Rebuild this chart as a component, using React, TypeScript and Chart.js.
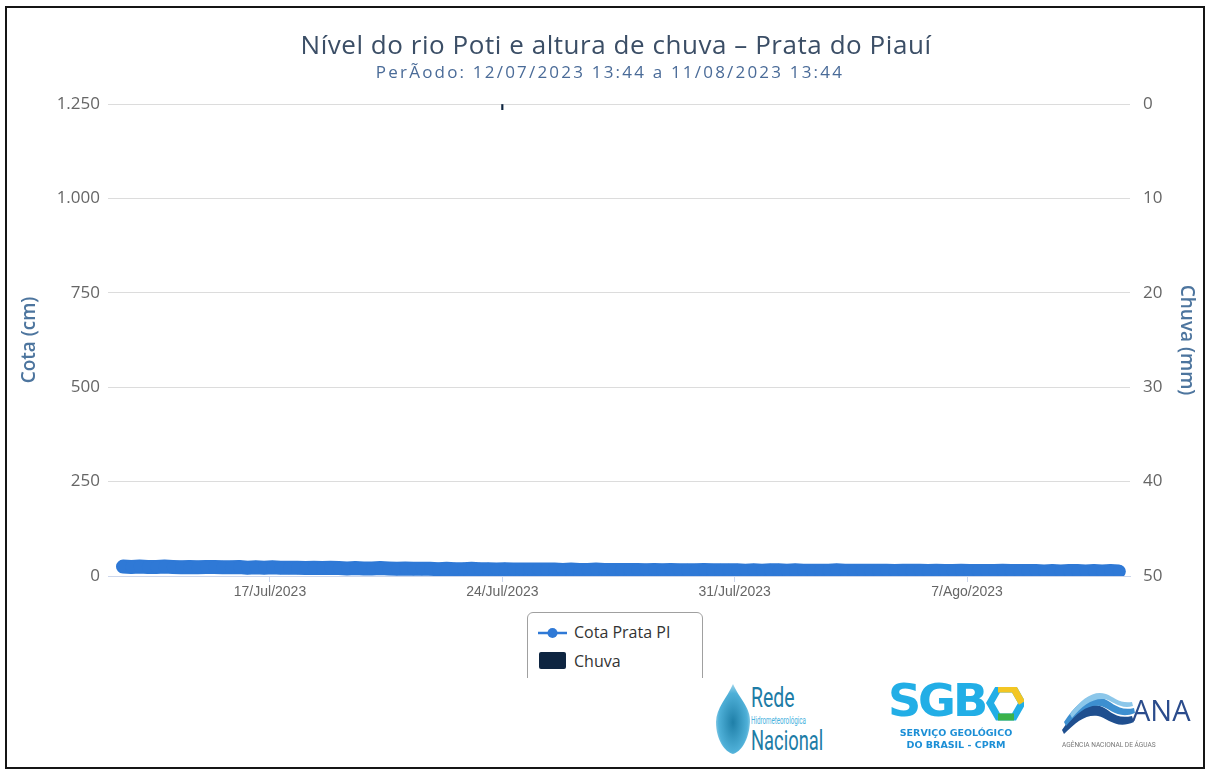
import React, { useEffect, useRef } from "react";
import { Chart, registerables } from "chart.js";

Chart.register(...registerables);

// ---- data ----
const startTime = Date.UTC(2023, 6, 12, 13, 44); // 12/07/2023 13:44
const stepHours = 6;

// Cota Prata PI (cm), one reading every 6 hours
const cotaValues = [
  25, 24, 25, 24,
  24, 25, 24, 23,
  24, 23, 24, 24,
  23, 23, 24, 22,
  23, 22, 23, 22,
  22, 22, 21, 22,
  21, 22, 21, 20,
  21, 20, 20, 21,
  20, 19, 20, 19,
  19, 19, 18, 19,
  18, 18, 19, 18,
  18, 17, 18, 17,
  17, 17, 17, 17,
  17, 16, 17, 16,
  16, 17, 16, 16,
  16, 16, 16, 15,
  16, 15, 16, 15,
  15, 15, 16, 15,
  15, 15, 15, 14,
  15, 14, 15, 15,
  14, 15, 14, 14,
  14, 14, 15, 14,
  14, 14, 14, 14,
  14, 13, 14, 14,
  14, 13, 14, 13,
  13, 14, 13, 13,
  13, 13, 14, 13,
  13, 13, 13, 12,
  13, 12, 13, 13,
  12, 13, 12, 13,
  12,
];

// Chuva (mm)
const chuvaTimes = [Date.UTC(2023, 6, 24, 0, 0)];
const chuvaValues = [0.6];

// tick labels
const xTickTimes = [
  Date.UTC(2023, 6, 17),
  Date.UTC(2023, 6, 24),
  Date.UTC(2023, 6, 31),
  Date.UTC(2023, 7, 7),
];
const monthNames = ["Jan", "Fev", "Mar", "Abr", "Mai", "Jun", "Jul", "Ago", "Set", "Out", "Nov", "Dez"];
const cotaTicks = [0, 250, 500, 750, 1000, 1250];
const chuvaTicks = [0, 10, 20, 30, 40, 50];

const DAY = 24 * 3600 * 1000;
const BLUE = "#2f79d6";
const NAVY = "#0e2541";

function fmtThousands(v: number): string {
  if (v >= 1000) {
    return `${Math.floor(v / 1000)}.${String(v % 1000).padStart(3, "0")}`;
  }
  return String(v);
}

function fmtDate(v: number): string {
  const d = new Date(v);
  return `${d.getUTCDate()}/${monthNames[d.getUTCMonth()]}/${d.getUTCFullYear()}`;
}

const ChartView: React.FC = () => {
  const ref = useRef<HTMLCanvasElement | null>(null);
  useEffect(() => {
    if (!ref.current) return;
    const cotaData = cotaValues.map((y, i) => ({ x: startTime + i * stepHours * 3600 * 1000, y }));
    const chuvaData = chuvaValues.map((y, i) => ({ x: chuvaTimes[i], y }));
    const chart = new Chart(ref.current, {
      type: "line",
      data: {
        datasets: [
          {
            type: "bar",
            label: "Chuva",
            data: chuvaData as any,
            yAxisID: "yChuva",
            backgroundColor: NAVY,
            borderWidth: 0,
            barThickness: 1.5,
            order: 2,
          } as any,
          {
            type: "line",
            label: "Cota Prata PI",
            data: cotaData as any,
            yAxisID: "yCota",
            borderColor: BLUE,
            backgroundColor: BLUE,
            borderWidth: 14,
            borderCapStyle: "round",
            borderJoinStyle: "round",
            pointRadius: 6,
            pointBorderWidth: 1,
            pointBackgroundColor: BLUE,
            pointBorderColor: BLUE,
            tension: 0,
            order: 1,
          },
        ],
      },
      options: {
        animation: false,
        responsive: true,
        maintainAspectRatio: false,
        layout: { padding: { top: 104, bottom: 72, left: 0, right: 0 } },
        plugins: {
          legend: { display: false },
          title: { display: false },
          tooltip: { enabled: false },
        },
        scales: {
          x: {
            type: "linear",
            offset: false,
            min: Date.UTC(2023, 6, 17) - 4.88 * DAY,
            max: Date.UTC(2023, 7, 7) + 4.91 * DAY,
            afterBuildTicks: (scale: any) => {
              scale.ticks = xTickTimes.map((v) => ({ value: v }));
            },
            afterFit: (scale: any) => {
              scale.height = 30;
            },
            ticks: {
              callback: (v: any) => fmtDate(Number(v)),
              color: "#666",
              font: { family: "Liberation Sans, Arial", size: 14 },
              padding: 2,
              maxRotation: 0,
              autoSkip: false,
            },
            grid: {
              offset: false,
              drawOnChartArea: false,
              drawTicks: true,
              tickLength: 6,
              color: "#ccd6eb",
            },
            border: { display: true, color: "#ccd6eb" },
          },
          yCota: {
            type: "linear",
            position: "left",
            min: 0,
            max: 1250,
            afterBuildTicks: (scale: any) => {
              scale.ticks = cotaTicks.map((v) => ({ value: v }));
            },
            afterFit: (scale: any) => {
              scale.width = 108;
            },
            ticks: {
              callback: (v: any) => fmtThousands(Number(v)),
              color: "#666",
              font: { family: "Open Sans", size: 17 },
              padding: 8,
            },
            grid: { color: "#dcdcdc", drawTicks: false },
            border: { display: false },
            title: {
              display: true,
              text: "Cota (cm)",
              color: "#4d759e",
              font: { family: "Open Sans", size: 19, weight: "600" },
              padding: { top: 18, bottom: 0 },
            },
          },
          yChuva: {
            type: "linear",
            position: "right",
            reverse: true,
            min: 0,
            max: 50,
            afterBuildTicks: (scale: any) => {
              scale.ticks = chuvaTicks.map((v) => ({ value: v }));
            },
            afterFit: (scale: any) => {
              scale.width = 80;
            },
            ticks: {
              color: "#666",
              font: { family: "Open Sans", size: 17 },
              padding: 13,
            },
            grid: { drawOnChartArea: false, drawTicks: false },
            border: { display: false },
            title: {
              display: true,
              text: "Chuva (mm)",
              color: "#4d759e",
              font: { family: "Open Sans", size: 19, weight: "600" },
              padding: { top: 12, bottom: 0 },
            },
          },
        },
      } as any,
    });
    return () => chart.destroy();
  }, []);
  return <canvas ref={ref} />;
};

const ReLogo: React.FC = () => (
  <div style={{ position: "absolute", left: 713, top: 682, width: 145, height: 76 }}>
    <svg width="40" height="74" style={{ position: "absolute", left: 0, top: 0 }}>
      <defs>
        <radialGradient id="rg" cx="50%" cy="55%" r="60%">
          <stop offset="0%" stopColor="#1f7fa8" />
          <stop offset="70%" stopColor="#4fb0d8" />
          <stop offset="100%" stopColor="#bfe4f3" />
        </radialGradient>
      </defs>
      <path d="M20 2 C26 16 38 26 37 40 C36 58 28 70 20 72 C12 70 3 58 3 40 C3 26 14 16 20 2 Z" fill="url(#rg)" />
    </svg>
    <div style={{ position: "absolute", left: 38, top: 2, fontFamily: "Roboto", fontSize: 27, color: "#1d7ca6", transform: "scaleX(0.72)", transformOrigin: "left top", lineHeight: "28px" }}>Rede</div>
    <div style={{ position: "absolute", left: 38, top: 33, fontFamily: "Roboto", fontSize: 10, color: "#49b2de", transform: "scaleX(0.62)", transformOrigin: "left top", lineHeight: "11px", whiteSpace: "nowrap" }}>Hidrometeorológica</div>
    <div style={{ position: "absolute", left: 38, top: 45, fontFamily: "Roboto", fontSize: 27, color: "#1d7ca6", transform: "scaleX(0.68)", transformOrigin: "left top", lineHeight: "28px" }}>Nacional</div>
  </div>
);

const SgbLogo: React.FC = () => (
  <div style={{ position: "absolute", left: 888, top: 682, width: 140, height: 76 }}>
    <div style={{ position: "absolute", left: 0, top: -6, fontFamily: "DejaVu Sans", fontWeight: "bold", fontSize: 44, color: "#22aee6", letterSpacing: -3, lineHeight: "50px", transform: "scaleX(1.05)", transformOrigin: "left top" }}>SGB</div>
    <svg width="40" height="40" style={{ position: "absolute", left: 96, top: 5 }}>
      <polygon points="14,2 30,2 38,16 30,30 14,30 6,16" fill="none" stroke="#22aee6" strokeWidth="7" />
      <path d="M14 2 L30 2 L38 16" fill="none" stroke="#f3c623" strokeWidth="7" />
      <path d="M30 30 L14 30" fill="none" stroke="#3bb24a" strokeWidth="7" />
    </svg>
    <div style={{ position: "absolute", left: 4, top: 45, fontFamily: "DejaVu Sans", fontWeight: "bold", fontSize: 9.5, color: "#1c8fd6", lineHeight: "12px", whiteSpace: "nowrap", textAlign: "center", width: 128 }}>
      SERVIÇO GEOLÓGICO<br />DO BRASIL - CPRM
    </div>
  </div>
);

const AnaLogo: React.FC = () => (
  <div style={{ position: "absolute", left: 1060, top: 682, width: 140, height: 76 }}>
    <svg width="76" height="50" style={{ position: "absolute", left: 0, top: 8 }}>
      <path d="M2 40 C14 22 26 12 40 16 C50 19 54 30 72 26 L74 32 C56 40 48 28 38 26 C26 24 16 32 4 44 Z" fill="#1f4f8f" />
      <path d="M4 32 C16 14 28 4 42 8 C52 11 58 22 74 18 L75 23 C58 30 50 18 40 16 C28 14 18 22 6 36 Z" fill="#3d8fd0" />
      <path d="M10 24 C22 8 34 0 46 4 C54 7 60 14 72 12 L73 16 C60 20 52 10 44 9 C32 8 22 16 12 28 Z" fill="#8cc7ea" />
    </svg>
    <div style={{ position: "absolute", left: 72, top: 12, fontFamily: "Open Sans", fontSize: 29, color: "#2b4c8c", lineHeight: "32px" }}>ANA</div>
    <div style={{ position: "absolute", left: 2, top: 58, fontFamily: "Roboto", fontSize: 8, color: "#777", lineHeight: "10px", whiteSpace: "nowrap", transform: "scaleX(0.82)", transformOrigin: "left top" }}>AGÊNCIA NACIONAL DE ÁGUAS</div>
  </div>
);

const App: React.FC = () => {
  return (
    <div style={{ position: "absolute", left: 0, top: 0, width: 1210, height: 773, background: "#fff", overflow: "hidden" }}>
      <div style={{ position: "absolute", left: 0, top: 0, width: 1210, height: 678, overflow: "hidden" }}>
        <ChartView />
        <div style={{ position: "absolute", left: 0, width: 1232, top: 27, textAlign: "center", fontFamily: "Open Sans", fontSize: 26, letterSpacing: 0.55, color: "#3b4e66", lineHeight: "34px", whiteSpace: "nowrap" }}>
          Nível do rio Poti e altura de chuva – Prata do Piauí
        </div>
        <div style={{ position: "absolute", left: 0, width: 1220, top: 60, textAlign: "center", fontFamily: "Open Sans", fontSize: 17, letterSpacing: 2.2, color: "#4a6b98", lineHeight: "24px", whiteSpace: "nowrap" }}>
          PerÃodo: 12/07/2023 13:44 a 11/08/2023 13:44
        </div>
        <div style={{ position: "absolute", left: 527, top: 612, width: 176, height: 80, border: "1px solid #a0a0a0", borderRadius: 6, boxSizing: "border-box", background: "#fff" }}>
          <svg width="30" height="14" style={{ position: "absolute", left: 10, top: 13 }}>
            <line x1="0" y1="7" x2="29" y2="7" stroke={BLUE} strokeWidth="2.5" />
            <circle cx="14.5" cy="7" r="5" fill={BLUE} />
          </svg>
          <div style={{ position: "absolute", left: 46, top: 8, fontFamily: "Open Sans", fontSize: 16, color: "#333", lineHeight: "22px", whiteSpace: "nowrap" }}>Cota Prata PI</div>
          <div style={{ position: "absolute", left: 11, top: 39, width: 27, height: 17, background: NAVY, borderRadius: 2 }} />
          <div style={{ position: "absolute", left: 46, top: 37, fontFamily: "Open Sans", fontSize: 16, color: "#333", lineHeight: "22px", whiteSpace: "nowrap" }}>Chuva</div>
        </div>
      </div>
      <ReLogo />
      <SgbLogo />
      <AnaLogo />
      <div style={{ position: "absolute", left: 5, top: 6, width: 1200, height: 763, border: "2px solid #151515", boxSizing: "border-box", pointerEvents: "none" }} />
    </div>
  );
};

export default App;
